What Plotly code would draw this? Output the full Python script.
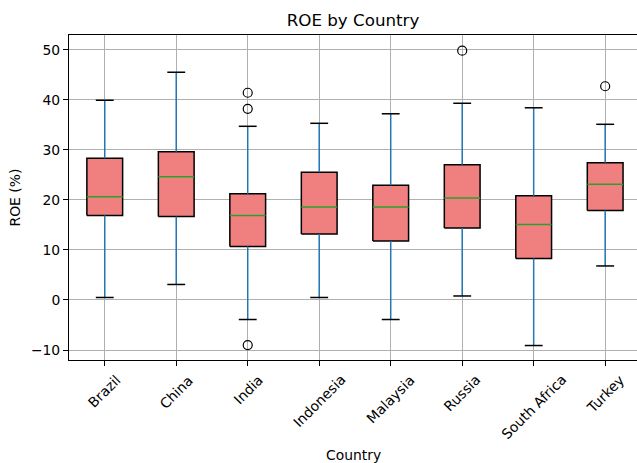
import plotly.graph_objects as go

countries = ["Brazil", "China", "India", "Indonesia", "Malaysia", "Russia", "South Africa", "Turkey"]
q1 = [16.9, 16.7, 10.7, 13.2, 11.8, 14.4, 8.3, 17.9]
median = [20.6, 24.6, 16.9, 18.6, 18.6, 20.4, 15.1, 23.1]
q3 = [28.3, 29.6, 21.2, 25.5, 22.9, 27.0, 20.8, 27.4]
whisker_low = [0.5, 3.1, -3.9, 0.5, -3.9, 0.8, -9.1, 6.8]
whisker_high = [39.9, 45.5, 34.7, 35.3, 37.2, 39.3, 38.4, 35.1]
outlier_country = ["India", "India", "India", "Russia", "Turkey"]
outlier_value = [41.4, 38.2, -9.0, 49.8, 42.7]

FONT = "DejaVu Sans"
BOX_W = 0.5
CAP_W = 0.25
pos = {c: i + 1 for i, c in enumerate(countries)}

fig = go.Figure()

# boxes
for c, a, b in zip(countries, q1, q3):
    x = pos[c]
    fig.add_trace(go.Scatter(
        x=[x - BOX_W / 2, x + BOX_W / 2, x + BOX_W / 2, x - BOX_W / 2, x - BOX_W / 2],
        y=[a, a, b, b, a], mode="lines", fill="toself", fillcolor="#F08080",
        line=dict(color="black", width=1.5), hoverinfo="skip", showlegend=False))

# whiskers
wx, wy = [], []
for c, a, b, lo, hi in zip(countries, q1, q3, whisker_low, whisker_high):
    x = pos[c]
    wx += [x, x, None, x, x, None]
    wy += [a, lo, None, b, hi, None]
fig.add_trace(go.Scatter(x=wx, y=wy, mode="lines", line=dict(color="#1f77b4", width=1.5),
                         hoverinfo="skip", showlegend=False))

# caps
cx, cy = [], []
for c, lo, hi in zip(countries, whisker_low, whisker_high):
    x = pos[c]
    cx += [x - CAP_W / 2, x + CAP_W / 2, None, x - CAP_W / 2, x + CAP_W / 2, None]
    cy += [lo, lo, None, hi, hi, None]
fig.add_trace(go.Scatter(x=cx, y=cy, mode="lines", line=dict(color="black", width=1.5),
                         hoverinfo="skip", showlegend=False))

# medians
mx, my = [], []
for c, m in zip(countries, median):
    x = pos[c]
    mx += [x - BOX_W / 2, x + BOX_W / 2, None]
    my += [m, m, None]
fig.add_trace(go.Scatter(x=mx, y=my, mode="lines", line=dict(color="#2ca02c", width=1.5),
                         hoverinfo="skip", showlegend=False))

# outliers
fig.add_trace(go.Scatter(x=[pos[c] for c in outlier_country], y=outlier_value, mode="markers",
                         marker=dict(symbol="circle-open", size=9, color="black", line=dict(width=1.2)),
                         showlegend=False))

annotations = []
for c in countries:
    annotations.append(dict(x=pos[c], y=0, xref="x", yref="paper", text=c, showarrow=False,
                            textangle=-45, xanchor="center", yanchor="top", yshift=-9,
                            font=dict(family=FONT, size=13.9, color="black")))
annotations.append(dict(x=0.5, y=0, xref="paper", yref="paper", text="Country", showarrow=False,
                        xanchor="center", yanchor="middle", yshift=-95,
                        font=dict(family=FONT, size=13.9, color="black")))
annotations.append(dict(x=0, y=0.5, xref="paper", yref="paper", text="ROE (%)", showarrow=False,
                        textangle=-90, xanchor="center", yanchor="middle", xshift=-55,
                        font=dict(family=FONT, size=13.9, color="black")))

fig.update_layout(
    width=637, height=463,
    margin=dict(l=69, r=0, t=35, b=103),
    paper_bgcolor="white", plot_bgcolor="white",
    title=dict(text="ROE by Country", x=(69 + 637) / 2 / 637, xanchor="center",
               y=1 - 20 / 463, yanchor="middle", font=dict(family=FONT, size=16.7, color="black")),
    annotations=annotations,
    font=dict(family=FONT, size=13.9, color="black"),
)
fig.update_xaxes(range=[0.5, 0.5 + 568 / 71.49], tickvals=list(range(1, len(countries) + 1)),
                 ticktext=[""] * len(countries), showgrid=True, gridcolor="#b0b0b0", gridwidth=1,
                 showline=True, linecolor="black", linewidth=1, mirror=True,
                 ticks="outside", ticklen=5, tickcolor="black", zeroline=False)
fig.update_yaxes(range=[-11.99, 52.94], tickvals=[-10, 0, 10, 20, 30, 40, 50],
                 ticktext=["\u221210", "0", "10", "20", "30", "40", "50"],
                 showgrid=True, gridcolor="#b0b0b0", gridwidth=1,
                 showline=True, linecolor="black", linewidth=1, mirror=False,
                 ticks="outside", ticklen=5, tickcolor="black", zeroline=False,
                 tickfont=dict(family=FONT, size=13.9, color="black"))

fig.write_html("out.html", config={"displayModeBar": False},
               post_script="document.body.style.margin='0';document.body.style.overflow='hidden';")
